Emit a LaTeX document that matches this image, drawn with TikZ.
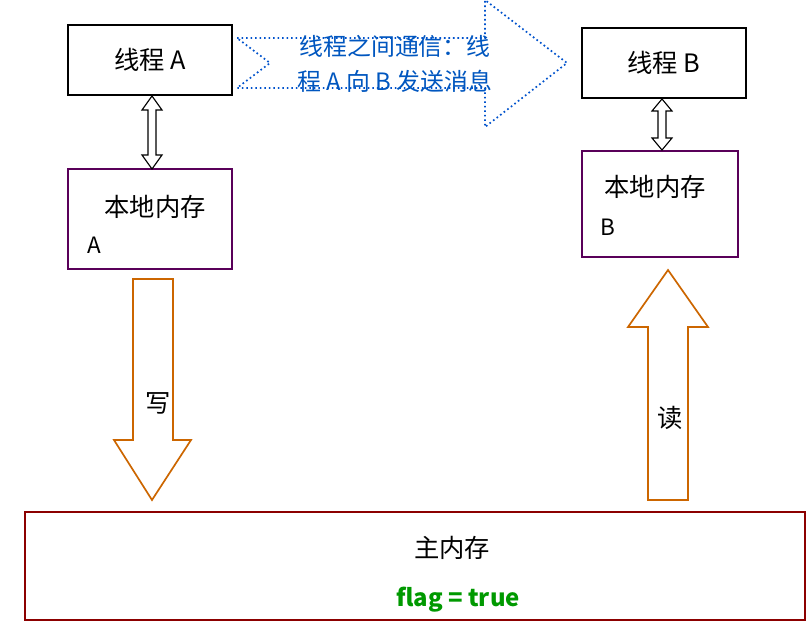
\documentclass[tikz,border=0pt]{standalone}
\usepackage{fontspec}
\setmainfont{Noto Sans CJK SC}
\usetikzlibrary{positioning}
\tikzstyle{thread} = [rectangle, draw=black, line width=1.8pt, minimum width=4.1cm, minimum height=1.75cm, font=\fontsize{18}{22}\selectfont]
\tikzstyle{local} = [rectangle, draw=violet!70!black, line width=1.2pt]
\tikzstyle{hollow} = [draw=orange!80!black, line width=1.2pt, fill=white]
\tikzstyle{twoway} = [draw=black, line width=0.8pt, fill=white]
\tikzstyle{big} = [font=\fontsize{18}{22}\selectfont]
\begin{document}
\begin{tikzpicture}[x=0.025cm, y=-0.025cm]
\useasboundingbox (0,0) rectangle (808,623);
\node (ta) [thread] at (150,60) {线程 A};
\node (tb) [thread] at (664,63) {线程 B};
\node (la) [local, minimum width=4.1cm, minimum height=2.5cm] at (150,219) {};
\node (lb) [local, minimum width=3.9cm, minimum height=2.65cm] at (660,204) {};
\node at (155,207) [big] {本地内存};
\node at (94,245) [font=\fontsize{16}{19}\selectfont] {A};
\node at (655,187) [big] {本地内存};
\node at (608,227) [font=\fontsize{16}{19}\selectfont] {B};
\node (mm) [rectangle, draw=red!55!black, line width=1.5pt, minimum width=19.5cm, minimum height=2.7cm] at (415,566) {};
\node at (452,548) [big] {主内存};
\node at (458,600) [font=\bfseries\fontsize{17}{20}\selectfont, text=green!60!black] {flag = true};
% message arrow
\draw [blue!60!cyan!80!black, dotted, line width=1.2pt] (237,38) -- (485,38) -- (485,0) -- (567,63) -- (485,127) -- (485,88) -- (237,88) -- (270,63) -- cycle;
\node at (395,64) [align=center, text=blue!55!cyan!75!black, font=\fontsize{17}{25}\selectfont] {线程之间通信：线\\程 A 向 B 发送消息};
% two-way arrows
\draw [twoway] (152,96) -- (162,110) -- (156,110) -- (156,155) -- (162,155) -- (152,169) -- (142,155) -- (148,155) -- (148,110) -- (142,110) -- cycle;
\draw [twoway] (662,99) -- (672,111) -- (666,111) -- (666,138) -- (672,138) -- (662,150) -- (652,138) -- (658,138) -- (658,111) -- (652,111) -- cycle;
% write / read
\draw [hollow] (133,279) -- (173,279) -- (173,440) -- (191,440) -- (152,500) -- (114,440) -- (133,440) -- cycle;
\node at (158,403) [big] {写};
\draw [hollow] (648,500) -- (688,500) -- (688,327) -- (708,327) -- (668,270) -- (628,327) -- (648,327) -- cycle;
\node at (670,418) [big] {读};
\end{tikzpicture}
\end{document}
